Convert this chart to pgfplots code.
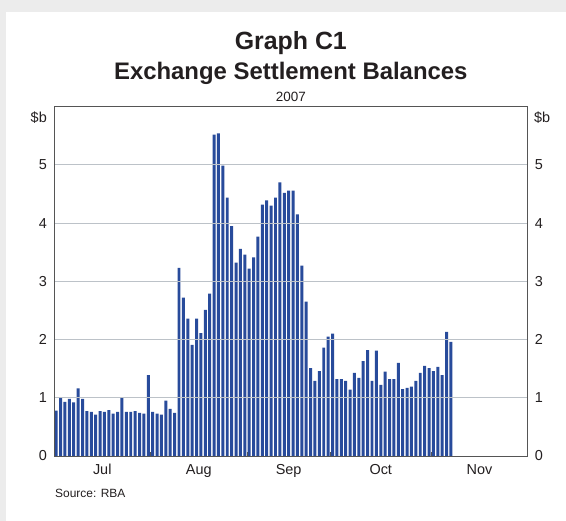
\documentclass[border=0pt]{standalone}
\usepackage{pgfplots}
\pgfplotsset{compat=1.18}
\usepackage{fontspec}
\setmainfont{Liberation Sans}
\definecolor{barblue}{RGB}{40,75,155}
\definecolor{gridc}{RGB}{188,194,200}
\definecolor{framec}{RGB}{85,85,85}
\definecolor{txt}{RGB}{35,31,32}
\definecolor{bgc}{RGB}{236,236,236}
\begin{document}
\begin{tikzpicture}
\fill[bgc] (0bp,0bp) rectangle (566bp,521bp);
\fill[white] (6bp,0bp) rectangle (566bp,509bp);
\begin{axis}[
  at={(54bp,65bp)}, anchor=south west,
  scale only axis, width=473.7bp, height=349.3bp,
  xmin=0, xmax=108, ymin=0, ymax=6,
  axis line style={framec, line width=0.9bp},
  ytick={0,1,2,3,4,5}, ytick pos=left,
  ymajorgrids, grid style={gridc, line width=0.9bp},
  xtick={11,33,53.5,74.5,97},
  xticklabels={Jul,Aug,Sep,Oct,Nov},
  xtick pos=bottom,
  major tick length=0pt,
  extra x ticks={22,44,63,86},
  extra x tick labels={},
  extra x tick style={major tick length=4bp, tick align=inside, tick style={framec, line width=0.9bp}},
  tick label style={font=\fontsize{14.5}{16}\selectfont, text=txt, inner sep=0pt},
  yticklabel style={xshift=-7bp},
  xticklabel style={yshift=-8bp},
  /pgf/number format/assume math mode=true,
  axis on top,
]
\addplot[ybar, bar width=0.68, bar shift=0pt, fill=barblue, draw=none] coordinates {
(0.5,0.78) (1.5,1.00) (2.5,0.93) (3.5,0.98) (4.5,0.92) (5.5,1.16) (6.5,0.98) (7.5,0.77)
(8.5,0.76) (9.5,0.71) (10.5,0.77) (11.5,0.76) (12.5,0.79) (13.5,0.73) (14.5,0.76) (15.5,1.00)
(16.5,0.76) (17.5,0.76) (18.5,0.77) (19.5,0.74) (20.5,0.73) (21.5,1.39)
(22.5,0.76) (23.5,0.73) (24.5,0.71) (25.5,0.95) (26.5,0.81) (27.5,0.74) (28.5,3.23) (29.5,2.72)
(30.5,2.36) (31.5,1.91) (32.5,2.36) (33.5,2.11) (34.5,2.51) (35.5,2.79) (36.5,5.52) (37.5,5.54)
(38.5,4.99) (39.5,4.44) (40.5,3.95) (41.5,3.32) (42.5,3.56) (43.5,3.46)
(44.5,3.22) (45.5,3.41) (46.5,3.77) (47.5,4.32) (48.5,4.39) (49.5,4.30) (50.5,4.44) (51.5,4.70)
(52.5,4.52) (53.5,4.56) (54.5,4.56) (55.5,4.15) (56.5,3.27) (57.5,2.65) (58.5,1.51) (59.5,1.29)
(60.5,1.46) (61.5,1.86) (62.5,2.05)
(63.5,2.10) (64.5,1.32) (65.5,1.32) (66.5,1.29) (67.5,1.14) (68.5,1.43) (69.5,1.34) (70.5,1.63)
(71.5,1.82) (72.5,1.29) (73.5,1.81) (74.5,1.22) (75.5,1.45) (76.5,1.32) (77.5,1.32) (78.5,1.60)
(79.5,1.15) (80.5,1.17) (81.5,1.19) (82.5,1.29) (83.5,1.43) (84.5,1.55) (85.5,1.51)
(86.5,1.46) (87.5,1.53) (88.5,1.39) (89.5,2.13) (90.5,1.96)
};
\end{axis}
\begin{axis}[
  at={(54bp,65bp)}, anchor=south west,
  scale only axis, width=473.7bp, height=349.3bp,
  xmin=0, xmax=108, ymin=0, ymax=6,
  hide x axis, axis line style={draw=none},
  ytick={0,1,2,3,4,5}, ytick pos=right, yticklabel pos=right,
  major tick length=0pt,
  tick label style={font=\fontsize{14.5}{16}\selectfont, text=txt, inner sep=0pt},
  yticklabel style={xshift=7bp},
  /pgf/number format/assume math mode=true,
]
\addplot[draw=none] coordinates {(0,0)};
\end{axis}
\node[anchor=base, text=txt, font=\bfseries\fontsize{25}{28}\selectfont] at (290.8bp,471bp) {Graph C1};
\node[anchor=base, text=txt, font=\bfseries\fontsize{24}{28}\selectfont] at (290.8bp,441bp) {Exchange Settlement Balances};
\node[anchor=base, text=txt, font=\fontsize{13.5}{15}\selectfont] at (290.8bp,419bp) {2007};
\node[anchor=base east, text=txt, inner sep=0pt, font=\fontsize{14.5}{16}\selectfont] at (47bp,398bp) {\$b};
\node[anchor=base west, text=txt, inner sep=0pt, font=\fontsize{14.5}{16}\selectfont] at (534bp,398bp) {\$b};
\node[anchor=base west, text=txt, inner sep=0pt, font=\fontsize{12}{14}\selectfont] at (55bp,24bp) {Source: RBA};
\pgfresetboundingbox
\useasboundingbox (0bp,0bp) rectangle (566bp,521bp);
\end{tikzpicture}
\end{document}
